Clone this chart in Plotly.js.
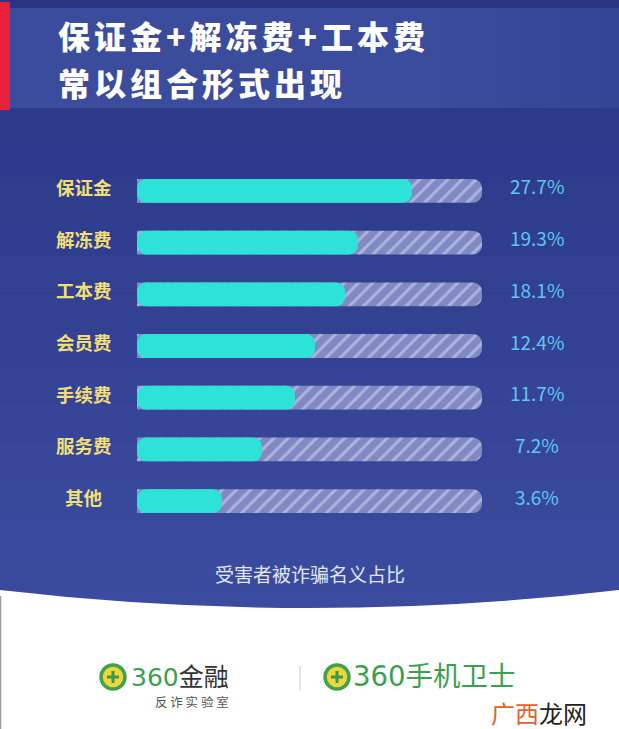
<!DOCTYPE html>
<html>
<head>
<meta charset="utf-8">
<script src="https://cdn.plot.ly/plotly-3.0.1.min.js"></script>
<style>
html,body{margin:0;padding:0;background:#ffffff;}
#chart{width:619px;height:729px;}
</style>
</head>
<body>
<div id="chart"></div>
<script>
// ---- data ----
const categories = ["保证金", "解冻费", "工本费", "会员费", "手续费", "服务费", "其他"];
const shares = [27.7, 19.3, 18.1, 12.4, 11.7, 7.2, 3.6];          // printed percentages
const fillLength = [79.7, 64.1, 60.3, 51.6, 45.8, 36.2, 24.6];     // drawn fill, % of track
const trackLength = [100, 100, 100, 100, 100, 100, 100];
const titleLines = ["保证金+解冻费+工本费", "常以组合形式出现"];
const caption = "受害者被诈骗名义占比";

// ---- helpers (page px -> paper) ----
const W = 619, H = 729;
const px = x => x / W;
const py = y => 1 - y / H;

const FONT = '"Noto Sans CJK SC", "Noto Sans", sans-serif';

// background gradient strips
const shapes = [];
shapes.push({type:'rect', xref:'paper', yref:'paper', x0:0, x1:1, y0:0, y1:1, fillcolor:'#2e3b8a', line:{width:0}, layer:'below'});
const nStrips = 14;
for (let i = 0; i < nStrips; i++) {
  const t = i / (nStrips - 1);
  const r = Math.round(0x2d + t * (0x3b - 0x2d));
  const g = Math.round(0x3a + t * (0x4c - 0x3a));
  const b = Math.round(0x8a + t * (0xa0 - 0x8a));
  const y0 = 108 + i * (520 / nStrips), y1 = y0 + 520 / nStrips + 1;
  shapes.push({type:'rect', xref:'paper', yref:'paper', x0:0, x1:1, y0:py(y1), y1:py(y0),
    fillcolor:`rgb(${r},${g},${b})`, line:{width:0}, layer:'below'});
}
// top dark strip and header band
shapes.push({type:'rect', xref:'paper', yref:'paper', x0:0, x1:1, y0:py(8), y1:1, fillcolor:'#2b3682', line:{width:0}, layer:'below'});
shapes.push({type:'rect', xref:'paper', yref:'paper', x0:0, x1:px(420), y0:py(108), y1:py(8), fillcolor:'#3b4c9d', line:{width:0}, layer:'below'});
for (let i = 0; i < 10; i++) {
  const x0 = 420 + i * 20;
  const t = i / 10;
  const r = Math.round(0x3b - t * (0x3b - 0x34));
  const g = Math.round(0x4c - t * (0x4c - 0x44));
  const b = Math.round(0x9d - t * (0x9d - 0x94));
  shapes.push({type:'rect', xref:'paper', yref:'paper', x0:px(x0), x1:px(x0 + 21), y0:py(108), y1:py(8),
    fillcolor:`rgb(${r},${g},${b})`, line:{width:0}, layer:'below'});
}
shapes.push({type:'rect', xref:'paper', yref:'paper', x0:px(620), x1:1, y0:py(108), y1:py(8), fillcolor:'#34448f', line:{width:0}, layer:'below'});
// red accent
shapes.push({type:'rect', xref:'paper', yref:'paper', x0:0, x1:px(10), y0:py(110), y1:py(2), fillcolor:'#e8203c', line:{width:0}, layer:'below'});
// white bottom with curved top
const curve = `M 0,${py(590)} Q ${px(309.5)},${py(626)} 1,${py(590)} L 1,0 L 0,0 Z`;
shapes.push({type:'path', xref:'paper', yref:'paper', path:curve, fillcolor:'#ffffff', line:{width:0}, layer:'below'});
shapes.push({type:'line', xref:'paper', yref:'paper', x0:px(0.5), x1:px(0.5), y0:0, y1:py(596), line:{color:'#9a9a9a', width:1.5}, layer:'below'});
// separator between logos
shapes.push({type:'line', xref:'paper', yref:'paper', x0:px(300), x1:px(300), y0:py(690), y1:py(666), line:{color:'#d8d8d8', width:1.5}, layer:'below'});
// logo icons
function icon(cx, cy) {
  shapes.push({type:'circle', xref:'paper', yref:'paper', x0:px(cx-12), x1:px(cx+12), y0:py(cy+12), y1:py(cy-12),
    fillcolor:'#f1d33c', line:{color:'#3fa34d', width:3.5}, layer:'above'});
  shapes.push({type:'rect', xref:'paper', yref:'paper', x0:px(cx-6), x1:px(cx+6), y0:py(cy+1.5), y1:py(cy-1.5), fillcolor:'#3a9a48', line:{width:0}, layer:'above'});
  shapes.push({type:'rect', xref:'paper', yref:'paper', x0:px(cx-1.5), x1:px(cx+1.5), y0:py(cy+6), y1:py(cy-6), fillcolor:'#3a9a48', line:{width:0}, layer:'above'});
}
icon(113, 677);
icon(337, 677);

// ---- annotations ----
const annotations = [];
titleLines.forEach((t, i) => {
  annotations.push({xref:'paper', yref:'paper', x:px(56), y:py(35 + i * 47), xanchor:'left', yanchor:'middle',
    text:'<span style="letter-spacing:4px">' + t + '</span>', showarrow:false,
    font:{family:FONT, size:32, color:'#ffffff', weight:900}});
});
categories.forEach((c, i) => {
  annotations.push({xref:'paper', yref:'y', x:px(84), y:c, yshift:4, xanchor:'center', yanchor:'middle',
    text:c, showarrow:false, font:{family:FONT, size:18.5, color:'#f2de77', weight:'bold'}});
  annotations.push({xref:'paper', yref:'y', x:px(537), y:c, yshift:5, xanchor:'center', yanchor:'middle',
    text:shares[i].toFixed(1) + '%', showarrow:false, font:{family:FONT, size:19, color:'#5ec8f2'}});
});
annotations.push({xref:'paper', yref:'paper', x:px(310), y:py(573), xanchor:'center', yanchor:'middle',
  text:caption, showarrow:false, font:{family:FONT, size:19, color:'#e3e6f6'}});
annotations.push({xref:'paper', yref:'paper', x:px(129), y:py(677), xanchor:'left', yanchor:'middle',
  text:'<span style="color:#3c9f50">360</span><span style="color:#333333">金融</span>', showarrow:false,
  font:{family:'"DejaVu Sans", ' + FONT, size:25}});
annotations.push({xref:'paper', yref:'paper', x:px(153), y:py(701), xanchor:'left', yanchor:'middle',
  text:'反 诈 实 验 室', showarrow:false, font:{family:FONT, size:12.5, color:'#555555'}});
annotations.push({xref:'paper', yref:'paper', x:px(351), y:py(676), xanchor:'left', yanchor:'middle',
  text:'360手机卫士', showarrow:false, font:{family:'"DejaVu Sans", ' + FONT, size:27.5, color:'#3c9f50'}});
annotations.push({xref:'paper', yref:'paper', x:px(489), y:py(712), xanchor:'left', yanchor:'middle',
  text:'<span style="color:#e2622a">广西</span><span style="color:#222222">龙网</span>', showarrow:false,
  font:{family:FONT, size:24}});

// ---- traces ----
const track = {
  type:'bar', orientation:'h', y:categories, x:trackLength, width:0.46,
  marker:{color:'#8189c3', cornerradius:9, line:{width:0},
    pattern:{shape:'/', bgcolor:'#8189c3', fgcolor:'#aeb3de', size:10, solidity:0.3, fillmode:'replace'}},
  hoverinfo:'skip'
};
const fill = {
  type:'bar', orientation:'h', y:categories, x:fillLength.map(v => -v), base:fillLength, width:0.46,
  marker:{color:'#2de3d8', cornerradius:9, line:{width:0}},
  text:shares.map(v => v + '%'), hoverinfo:'y+text', textposition:'none'
};

const layout = {
  width:W, height:H,
  margin:{l:0, r:0, t:0, b:0},
  paper_bgcolor:'#2e3b8a', plot_bgcolor:'rgba(0,0,0,0)',
  barmode:'overlay', showlegend:false,
  xaxis:{domain:[px(137), px(482)], range:[0, 100], visible:false, fixedrange:true},
  yaxis:{domain:[py(527), py(165)], type:'category', categoryorder:'array', categoryarray:categories,
    range:[categories.length - 0.5, -0.5], visible:false, fixedrange:true},
  shapes:shapes, annotations:annotations
};

Plotly.newPlot('chart', [track, fill], layout, {displayModeBar:false, staticPlot:true});
</script>
</body>
</html>
